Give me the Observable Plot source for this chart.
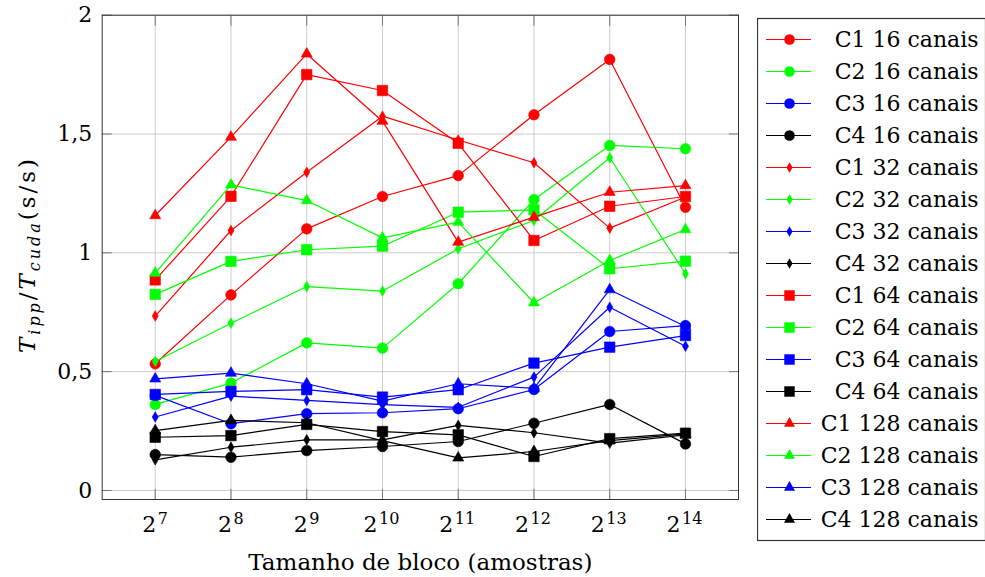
<!DOCTYPE html>
<html><head><meta charset="utf-8">
<script src="https://cdn.jsdelivr.net/npm/d3@7"></script>
<script src="https://cdn.jsdelivr.net/npm/@observablehq/plot@0.6"></script>
<style>
html,body{margin:0;padding:0;background:#fff;}
#wrap{position:relative;width:985px;height:577px;overflow:hidden;background:#fff;}
#legend{position:absolute;left:757px;top:14px;}
svg text{font-family:"DejaVu Serif", serif;}
</style></head><body>
<div id="wrap"><div id="chart"></div><div id="legend"></div></div>
<script>
// ---- data ----
const exponents = [7, 8, 9, 10, 11, 12, 13, 14];       // block size = 2^exponent
const yTicks = [0, 0.5, 1, 1.5, 2];
const variants = ["C1", "C2", "C3", "C4"];
const channelCounts = [16, 32, 64, 128];

const c1_16  = [0.533, 0.823, 1.101, 1.237, 1.325, 1.581, 1.814, 1.192];
const c2_16  = [0.362, 0.452, 0.621, 0.599, 0.870, 1.224, 1.452, 1.438];
const c3_16  = [0.400, 0.281, 0.323, 0.327, 0.344, 0.425, 0.669, 0.694];
const c4_16  = [0.151, 0.140, 0.168, 0.185, 0.206, 0.283, 0.362, 0.196];
const c1_32  = [0.734, 1.094, 1.339, 1.575, 1.475, 1.379, 1.104, 1.235];
const c2_32  = [0.543, 0.704, 0.858, 0.839, 1.017, 1.136, 1.400, 0.912];
const c3_32  = [0.309, 0.397, 0.379, 0.361, 0.350, 0.477, 0.771, 0.607];
const c4_32  = [0.129, 0.182, 0.213, 0.213, 0.274, 0.243, 0.199, 0.234];
const c1_64  = [0.886, 1.238, 1.750, 1.683, 1.461, 1.052, 1.196, 1.237];
const c2_64  = [0.825, 0.964, 1.013, 1.028, 1.171, 1.181, 0.933, 0.965];
const c3_64  = [0.404, 0.417, 0.424, 0.393, 0.424, 0.536, 0.603, 0.652];
const c4_64  = [0.224, 0.231, 0.278, 0.248, 0.234, 0.143, 0.218, 0.241];
const c1_128 = [1.157, 1.487, 1.837, 1.554, 1.045, 1.150, 1.255, 1.283];
const c2_128 = [0.915, 1.286, 1.220, 1.063, 1.129, 0.790, 0.968, 1.098];
const c3_128 = [0.470, 0.494, 0.449, 0.376, 0.449, 0.430, 0.845, 0.690];
const c4_128 = [0.252, 0.295, 0.285, 0.210, 0.137, 0.164, 0.210, 0.238];

const seriesValues = [c1_16, c2_16, c3_16, c4_16, c1_32, c2_32, c3_32, c4_32,
                      c1_64, c2_64, c3_64, c4_64, c1_128, c2_128, c3_128, c4_128];

// ---- styles ----
const variantColor = {C1: "#ff0000", C2: "#00ff00", C3: "#0000ff", C4: "#000000"};
const channelSymbol = {16: "circle", 32: "diamond", 64: "square", 128: "triangle"};
const symbolR = {circle: 5.3, diamond: 3.2, square: 5.9, triangle: 4.1};
const FONT = '"DejaVu Serif", serif';

const series = [];
channelCounts.forEach((ch, ci) => variants.forEach((v, vi) => {
  const vals = seriesValues[ci * 4 + vi];
  const name = `${v} ${ch} canais`;
  series.push({
    name, color: variantColor[v], symbol: channelSymbol[ch],
    rows: exponents.map((e, i) => ({exp: e, value: vals[i], name}))
  });
}));

const seriesMarks = series.flatMap(s => [
  Plot.line(s.rows, {x: "exp", y: "value", stroke: s.color, strokeWidth: 1.2}),
  Plot.dot(s.rows, {x: "exp", y: "value", fill: s.color, stroke: s.color, strokeWidth: 0.6,
                    symbol: s.symbol, r: symbolR[s.symbol]})
]);

const oneDigit = exponents.filter(e => e < 10);
const twoDigit = exponents.filter(e => e >= 10);
const tickText = {frameAnchor: "bottom", lineAnchor: "middle", fill: "#000", fontFamily: FONT};

const chart = Plot.plot({
  width: 985, height: 577,
  marginLeft: 101.7, marginRight: 247, marginTop: 14.7, marginBottom: 78,
  style: {fontFamily: FONT, fontSize: "22px", background: "#fff", overflow: "visible"},
  x: {type: "linear", domain: [6.3, 14.7], label: null},
  y: {domain: [-0.038, 2], label: null},
  marks: [
    Plot.gridX({ticks: exponents, stroke: "#cccccc", strokeOpacity: 1}),
    Plot.gridY({ticks: yTicks, stroke: "#cccccc", strokeOpacity: 1}),
    Plot.axisX({ticks: exponents, anchor: "bottom", tickSize: -10, tickFormat: () => "", stroke: "#777", label: null}),
    Plot.axisX({ticks: exponents, anchor: "top", tickSize: -10, tickFormat: () => "", stroke: "#777", label: null}),
    Plot.axisY({ticks: yTicks, anchor: "left", tickSize: -10, tickFormat: () => "", stroke: "#777", label: null}),
    Plot.axisY({ticks: yTicks, anchor: "right", tickSize: -10, tickFormat: () => "", stroke: "#777", label: null}),
    Plot.axisY({ticks: yTicks, anchor: "left", tickSize: 0, tickPadding: 10, label: null,
                tickFormat: d => String(d).replace(".", ","), fontSize: 22, fill: "#000", fontFamily: FONT}),
    // x tick labels: 2^n
    Plot.text(oneDigit, {...tickText, x: d => d, text: () => "2", textAnchor: "end", dx: 1, dy: 25, fontSize: 22}),
    Plot.text(oneDigit, {...tickText, x: d => d, text: d => String(d), textAnchor: "start", dx: 2.5, dy: 19, fontSize: 16}),
    Plot.text(twoDigit, {...tickText, x: d => d, text: () => "2", textAnchor: "end", dx: -5, dy: 25, fontSize: 22}),
    Plot.text(twoDigit, {...tickText, x: d => d, text: d => String(d), textAnchor: "start", dx: -3.5, dy: 19, fontSize: 16}),
    Plot.text(["Tamanho de bloco (amostras)"], {frameAnchor: "bottom", lineAnchor: "middle", dy: 63,
                          fontSize: 23, fill: "#000", fontFamily: FONT}),
    ...seriesMarks,
    Plot.frame({stroke: "#333", strokeWidth: 1})
  ]
});
document.getElementById("chart").appendChild(chart);

// y axis label with sub-scripts (real text, rotated)
{
  const svg = d3.select(chart);
  const t = svg.append("text")
    .attr("transform", "translate(35,256) rotate(-90)")
    .attr("text-anchor", "middle")
    .attr("textLength", 194).attr("lengthAdjust", "spacing")
    .attr("font-family", FONT).attr("font-size", 23).attr("fill", "#000");
  t.append("tspan").attr("font-style", "italic").text("T");
  t.append("tspan").attr("font-style", "italic").attr("font-size", 16).attr("dy", 5).text("ipp");
  t.append("tspan").attr("dy", -5).text("/");
  t.append("tspan").attr("font-style", "italic").text("T");
  t.append("tspan").attr("font-style", "italic").attr("font-size", 16).attr("dy", 5).text("cuda");
  t.append("tspan").attr("dy", -5).text("(s/s)");
}

// ---- legend ----
const legendNames = series.map(s => s.name);
const legend = Plot.plot({
  width: 228, height: 532,
  marginTop: 4, marginBottom: 6, marginLeft: 0, marginRight: 0,
  style: {fontFamily: FONT, fontSize: "22px", background: "#fff"},
  y: {type: "point", domain: legendNames, axis: null},
  marks: [
    Plot.ruleY(series, {y: "name", stroke: "color", strokeWidth: 1.2, insetLeft: 9, insetRight: 174}),
    Plot.dot(series.filter(s => s.symbol === "circle"), {y: "name", frameAnchor: "left", dx: 32, fill: "color", symbol: "symbol", r: symbolR.circle}),
    Plot.dot(series.filter(s => s.symbol === "diamond"), {y: "name", frameAnchor: "left", dx: 32, fill: "color", symbol: "symbol", r: symbolR.diamond}),
    Plot.dot(series.filter(s => s.symbol === "square"), {y: "name", frameAnchor: "left", dx: 32, fill: "color", symbol: "symbol", r: symbolR.square}),
    Plot.dot(series.filter(s => s.symbol === "triangle"), {y: "name", frameAnchor: "left", dx: 32, fill: "color", symbol: "symbol", r: symbolR.triangle}),
    Plot.text(series, {y: "name", text: "name", frameAnchor: "right", textAnchor: "end", lineAnchor: "middle",
                       dx: -7, fontSize: 22, fill: "#000", fontFamily: FONT}),
    Plot.frame({stroke: "#333", strokeWidth: 1.2})
  ]
});
document.getElementById("legend").appendChild(legend);
</script>
</body></html>
